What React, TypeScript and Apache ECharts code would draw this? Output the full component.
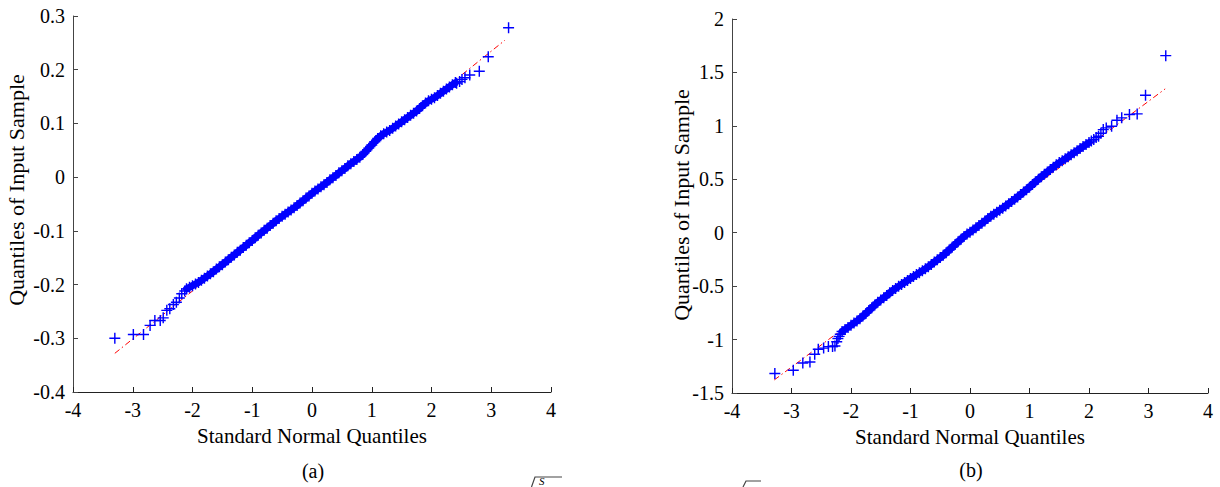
import React, { useEffect, useRef } from "react";
import * as echarts from "echarts";

// ---------- Panel (a) ----------
const aLowTail: number[][] = [
  [-3.30, -0.300], [-2.99, -0.293], [-2.82, -0.293], [-2.71, -0.276], [-2.63, -0.267],
  [-2.54, -0.267], [-2.49, -0.262], [-2.43, -0.248], [-2.38, -0.245], [-2.32, -0.237],
  [-2.27, -0.233], [-2.22, -0.225], [-2.18, -0.217], [-2.13, -0.212],
];
const aBandX = [
  -2.10, -2.05, -2.00, -1.95, -1.90, -1.85, -1.80, -1.75, -1.70, -1.65, -1.60, -1.55, -1.50,
  -1.45, -1.40, -1.35, -1.30, -1.25, -1.20, -1.15, -1.10, -1.05, -1.00, -0.95, -0.90, -0.85,
  -0.80, -0.75, -0.70, -0.65, -0.60, -0.55, -0.50, -0.45, -0.40, -0.35, -0.30, -0.25, -0.20,
  -0.15, -0.10, -0.05, 0.00, 0.05, 0.10, 0.15, 0.20, 0.25, 0.30, 0.35, 0.40, 0.45, 0.50,
  0.55, 0.60, 0.65, 0.70, 0.75, 0.80, 0.85, 0.90, 0.95, 1.00, 1.05, 1.10, 1.15, 1.20, 1.25,
  1.30, 1.35, 1.40, 1.45, 1.50, 1.55, 1.60, 1.65, 1.70, 1.75, 1.80, 1.85, 1.90, 1.95, 2.00,
  2.05, 2.10, 2.15, 2.20, 2.25, 2.30, 2.35, 2.40,
];
const aBandY = [
  -0.208, -0.205, -0.202, -0.199, -0.196, -0.192, -0.188, -0.184, -0.180, -0.176, -0.171, -0.167, -0.163,
  -0.158, -0.154, -0.149, -0.145, -0.140, -0.136, -0.131, -0.127, -0.122, -0.118, -0.113, -0.108, -0.104,
  -0.099, -0.095, -0.090, -0.086, -0.081, -0.077, -0.073, -0.069, -0.065, -0.061, -0.057, -0.053, -0.048,
  -0.044, -0.039, -0.035, -0.030, -0.026, -0.022, -0.018, -0.014, -0.010, -0.005, -0.001, 0.003, 0.008, 0.012,
  0.016, 0.021, 0.025, 0.029, 0.033, 0.037, 0.042, 0.048, 0.054, 0.060, 0.066, 0.072, 0.077, 0.081, 0.084,
  0.087, 0.091, 0.095, 0.099, 0.103, 0.107, 0.111, 0.115, 0.119, 0.123, 0.128, 0.133, 0.138, 0.142, 0.145,
  0.148, 0.152, 0.156, 0.160, 0.164, 0.168, 0.172, 0.176,
];
const aHighTail: number[][] = [
  [2.42, 0.175], [2.47, 0.178], [2.51, 0.182], [2.56, 0.185], [2.64, 0.190],
  [2.80, 0.197], [2.95, 0.224], [3.29, 0.278],
];
const aRefLine: number[][] = [[-3.30, -0.328], [3.23, 0.255]];

// ---------- Panel (b) ----------
const bLowTail: number[][] = [
  [-3.28, -1.318], [-2.97, -1.287], [-2.81, -1.220], [-2.69, -1.210], [-2.61, -1.137],
  [-2.55, -1.090], [-2.46, -1.080], [-2.38, -1.066], [-2.31, -1.065], [-2.27, -1.060],
  [-2.24, -1.020], [-2.22, -0.990], [-2.20, -0.970], [-2.18, -0.950],
];
const bBandX = [
  -2.15, -2.10, -2.05, -2.00, -1.95, -1.90, -1.85, -1.80, -1.75, -1.70, -1.65, -1.60, -1.55,
  -1.50, -1.45, -1.40, -1.35, -1.30, -1.25, -1.20, -1.15, -1.10, -1.05, -1.00, -0.95, -0.90,
  -0.85, -0.80, -0.75, -0.70, -0.65, -0.60, -0.55, -0.50, -0.45, -0.40, -0.35, -0.30, -0.25,
  -0.20, -0.15, -0.10, -0.05, 0.00, 0.05, 0.10, 0.15, 0.20, 0.25, 0.30, 0.35, 0.40, 0.45,
  0.50, 0.55, 0.60, 0.65, 0.70, 0.75, 0.80, 0.85, 0.90, 0.95, 1.00, 1.05, 1.10, 1.15, 1.20,
  1.25, 1.30, 1.35, 1.40, 1.45, 1.50, 1.55, 1.60, 1.65, 1.70, 1.75, 1.80, 1.85, 1.90, 1.95, 2.00,
];
const bBandY = [
  -0.925, -0.905, -0.886, -0.866, -0.846, -0.826, -0.805, -0.780, -0.755, -0.729, -0.702, -0.676, -0.651,
  -0.630, -0.609, -0.588, -0.563, -0.540, -0.521, -0.502, -0.484, -0.465, -0.447, -0.428, -0.410, -0.392,
  -0.374, -0.356, -0.338, -0.318, -0.297, -0.275, -0.254, -0.233, -0.212, -0.188, -0.162, -0.136, -0.110,
  -0.085, -0.060, -0.035, -0.012, 0.005, 0.026, 0.046, 0.067, 0.088, 0.110, 0.132, 0.154, 0.173, 0.192,
  0.211, 0.230, 0.251, 0.272, 0.292, 0.313, 0.334, 0.357, 0.380, 0.403, 0.426, 0.452, 0.477, 0.501, 0.524,
  0.547, 0.569, 0.591, 0.613, 0.636, 0.656, 0.673, 0.692, 0.711, 0.730, 0.749, 0.768, 0.787, 0.806, 0.825, 0.844,
];
const bHighTail: number[][] = [
  [2.04, 0.858], [2.08, 0.872], [2.12, 0.890], [2.16, 0.903], [2.20, 0.930], [2.24, 0.965],
  [2.29, 0.981], [2.38, 0.996], [2.47, 1.052], [2.55, 1.075], [2.68, 1.106], [2.81, 1.112],
  [2.95, 1.286], [3.29, 1.657],
];
const bRefLine: number[][] = [[-3.29, -1.378], [3.28, 1.346]];

const xTitle = "Standard Normal Quantiles";
const yTitle = "Quantiles of Input Sample";
const captions = ["(a)", "(b)"];

const FONT = "'Liberation Serif', 'Times New Roman', serif";
const PLUS = "path://M4.35,0H5.65V4.35H10V5.65H5.65V10H4.35V5.65H0V4.35H4.35Z";
const BLUE = "#0000ff";

function zip(xs: number[], ys: number[]) {
  return xs.map((x, i) => [x, ys[i]]);
}

function axisCommon(color: string) {
  return {
    axisLine: { show: true, onZero: false, lineStyle: { color, width: 1 } },
    axisTick: { show: true, inside: true, length: 5, lineStyle: { color, width: 1 } },
    splitLine: { show: false },
    axisLabel: { color: "#000", fontFamily: FONT, fontSize: 20, margin: 8 },
  };
}

export default function App() {
  const ref = useRef<HTMLDivElement>(null);
  useEffect(() => {
    if (!ref.current) return;
    const chart = echarts.init(ref.current, undefined, { renderer: "svg" });
    const scatterStyle = {
      type: "scatter",
      symbol: PLUS,
      symbolSize: 11,
      itemStyle: { color: BLUE, opacity: 1 },
      silent: true,
      z: 3,
    };
    const bandStyle = {
      type: "line",
      symbol: "none",
      silent: true,
      lineStyle: { color: BLUE, width: 7, cap: "round", join: "round" },
      z: 3,
    };
    const refStyle = {
      type: "line",
      symbol: "none",
      silent: true,
      lineStyle: { color: "#ff0000", width: 1, type: [6, 3, 1.5, 3] },
      z: 2,
    };
    const aBand = zip(aBandX, aBandY);
    const bBand = zip(bBandX, bBandY);
    chart.setOption({
      animation: false,
      grid: [
        { left: 73, top: 16, width: 478, height: 376 },
        { left: 732, top: 19, width: 476, height: 374 },
      ],
      xAxis: [
        {
          gridIndex: 0, type: "value", min: -4, max: 4, interval: 1,
          ...axisCommon("#222"),
          name: xTitle, nameLocation: "middle", nameGap: 33,
          nameTextStyle: { color: "#000", fontFamily: FONT, fontSize: 21 },
        },
        {
          gridIndex: 1, type: "value", min: -4, max: 4, interval: 1,
          ...axisCommon("#222"),
          name: xTitle, nameLocation: "middle", nameGap: 33,
          nameTextStyle: { color: "#000", fontFamily: FONT, fontSize: 21 },
        },
      ],
      yAxis: [
        { gridIndex: 0, type: "value", min: -0.4, max: 0.3, interval: 0.1, ...axisCommon("#444") },
        { gridIndex: 1, type: "value", min: -1.5, max: 2, interval: 0.5, ...axisCommon("#444") },
      ],
      series: [
        { ...refStyle, xAxisIndex: 0, yAxisIndex: 0, data: aRefLine },
        { ...bandStyle, xAxisIndex: 0, yAxisIndex: 0, data: aBand },
        { ...scatterStyle, xAxisIndex: 0, yAxisIndex: 0, data: [...aLowTail, ...aBand, ...aHighTail] },
        { ...refStyle, xAxisIndex: 1, yAxisIndex: 1, data: bRefLine },
        { ...bandStyle, xAxisIndex: 1, yAxisIndex: 1, data: bBand },
        { ...scatterStyle, xAxisIndex: 1, yAxisIndex: 1, data: [...bLowTail, ...bBand, ...bHighTail] },
      ],
      graphic: [
        {
          type: "text", x: 16, y: 190, rotation: Math.PI / 2,
          style: { text: yTitle, fill: "#000", font: `22px ${FONT}`, align: "center", verticalAlign: "middle" },
        },
        {
          type: "text", x: 681, y: 205, rotation: Math.PI / 2,
          style: { text: yTitle, fill: "#000", font: `22px ${FONT}`, align: "center", verticalAlign: "middle" },
        },
        {
          type: "text", x: 313, y: 471,
          style: { text: captions[0], fill: "#000", font: `20px ${FONT}`, align: "center", verticalAlign: "middle" },
        },
        {
          type: "text", x: 971, y: 470,
          style: { text: captions[1], fill: "#000", font: `20px ${FONT}`, align: "center", verticalAlign: "middle" },
        },
        {
          type: "polyline",
          shape: { points: [[531.5, 487], [535, 477], [562, 477]] },
          style: { stroke: "#444", lineWidth: 1.2, fill: "none" },
        },
        {
          type: "text", x: 539, y: 486,
          style: { text: "S", fill: "#000", font: `italic 11px ${FONT}`, align: "left", verticalAlign: "bottom" },
        },
        {
          type: "polyline",
          shape: { points: [[743, 487], [746, 481], [761, 481]] },
          style: { stroke: "#444", lineWidth: 1.2, fill: "none" },
        },
      ],
    });
    return () => chart.dispose();
  }, []);
  return (
    <div
      ref={ref}
      style={{ position: "fixed", left: 0, top: 0, width: 1220, height: 487, background: "#fff" }}
    />
  );
}
